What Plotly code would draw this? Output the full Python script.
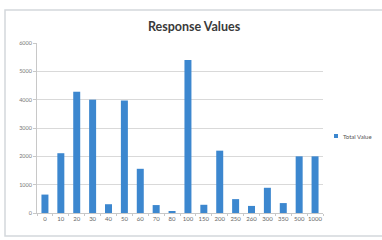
import plotly.graph_objects as go

categories = ["0", "10", "20", "30", "40", "50", "60", "70", "80", "100",
              "150", "200", "250", "260", "300", "350", "500", "1000"]
total_value = [650, 2110, 4280, 4000, 310, 3970, 1560, 280, 70, 5400,
               290, 2200, 490, 250, 890, 350, 2000, 2000]
y_ticks = [0, 1000, 2000, 3000, 4000, 5000, 6000]
series_name = "Total Value"
bar_color = "#3c87cf"

PW, PH = 286, 170  # plot area size in px

fig = go.Figure()
fig.add_trace(go.Bar(
    x=categories, y=total_value, name=series_name, showlegend=False,
    marker=dict(color=bar_color, line=dict(width=0)),
))

fig.update_layout(
    width=382, height=240,
    margin=dict(l=37, r=59, t=43, b=27, autoexpand=False),
    paper_bgcolor="white", plot_bgcolor="white",
    font=dict(family="Lato, Open Sans, sans-serif", size=6, color="#666"),
    title=dict(text="<b>Response Values</b>", x=0.508, xref="container", xanchor="center",
               y=1 - 27 / 240, yref="container", yanchor="middle",
               font=dict(family="Lato, Open Sans, sans-serif", size=12.5, color="#3a3a3a")),
    bargap=0.56,
    showlegend=False,
    shapes=[
        dict(type="rect", xref="paper", yref="paper",
             x0=-32 / PW, x1=(385 - 37) / PW,
             y0=-23 / PH, y1=(213 - 10) / PH,
             line=dict(color="#d4d8dc", width=1.5), fillcolor="rgba(0,0,0,0)",
             layer="below"),
        # legend swatch
        dict(type="rect", xref="paper", yref="paper",
             x0=(334 - 37) / PW, x1=(338 - 37) / PW,
             y0=(213 - 138) / PH, y1=(213 - 134) / PH,
             line=dict(width=0), fillcolor=bar_color),
    ],
    annotations=[dict(text=series_name, xref="paper", yref="paper",
                      x=(341 - 37) / PW, y=(213 - 136) / PH,
                      xanchor="left", yanchor="middle", showarrow=False,
                      font=dict(size=6, color="#555"))],
)
fig.update_xaxes(
    type="category", showgrid=False, showline=True, linecolor="#c8c8c8", linewidth=1,
    ticks="outside", ticklen=2, tickcolor="#c8c8c8", tickson="boundaries",
    tickangle=0, tickfont=dict(size=6, color="#666"), fixedrange=True,
)
fig.update_yaxes(
    range=[0, 6000], tickvals=y_ticks, showgrid=True, gridcolor="#d9d9d9", gridwidth=1,
    showline=True, linecolor="#c8c8c8", linewidth=1, zeroline=False,
    ticks="outside", ticklen=3, tickcolor="#c8c8c8",
    tickfont=dict(size=5.5, color="#777"), fixedrange=True,
)

fig.write_html("out.html", config={"displayModeBar": False},
               post_script="document.body.style.margin='0';")
